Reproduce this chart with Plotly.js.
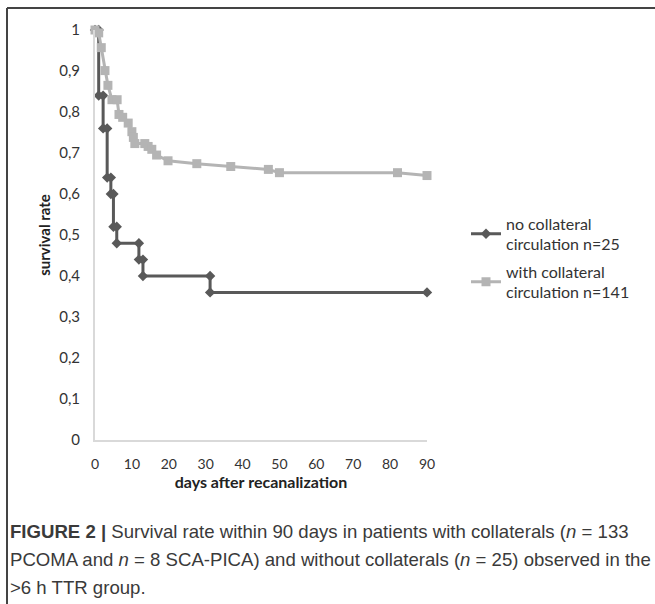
<!DOCTYPE html>
<html>
<head>
<meta charset="utf-8">
<script src="https://cdn.plot.ly/plotly-3.0.1.min.js"></script>
<style>html,body{margin:0;padding:0;background:#fff;}</style>
</head>
<body>
<div id="chart" style="width:655px;height:604px;"></div>
<script>
// ---- data ----
var noCollDays = [0, 1, 1, 2.2, 2.2, 3.3, 3.3, 4.3, 4.3, 5, 5, 5.9, 5.9, 11.9, 11.9, 13, 13, 31.2, 31.2, 90];
var noCollRate = [1, 1, 0.84, 0.84, 0.76, 0.76, 0.64, 0.64, 0.60, 0.60, 0.52, 0.52, 0.48, 0.48, 0.44, 0.44, 0.40, 0.40, 0.36, 0.36];
var withCollDays = [0, 1, 1.7, 2.7, 3.5, 4.6, 6, 6.5, 7.5, 9, 10, 10.4, 10.8, 13.5, 14.4, 15.4, 16.7, 19.8, 27.6, 36.8, 47, 50, 82, 90];
var withCollRate = [1, 0.993, 0.957, 0.901, 0.865, 0.83, 0.83, 0.794, 0.787, 0.773, 0.752, 0.738, 0.723, 0.723, 0.716, 0.709, 0.695, 0.681, 0.674, 0.667, 0.660, 0.652, 0.652, 0.645];
var yTickVals = [0, 0.1, 0.2, 0.3, 0.4, 0.5, 0.6, 0.7, 0.8, 0.9, 1];
var yTickText = ['0', '0,1', '0,2', '0,3', '0,4', '0,5', '0,6', '0,7', '0,8', '0,9', '1'];
var xTickVals = [0, 10, 20, 30, 40, 50, 60, 70, 80, 90];
var seriesNames = ['no collateral<br>circulation n=25', 'with collateral<br>circulation n=141'];
var xTitle = 'days after recanalization';
var yTitle = 'survival rate';
var captionLines = [
  '<b>FIGURE 2 |</b> Survival rate within 90 days in patients with collaterals (<i>n</i> = 133',
  'PCOMA and <i>n</i> = 8 SCA-PICA) and without collaterals (<i>n</i> = 25) observed in the',
  '>6 h TTR group.'
];

// ---- layout helpers (pixel -> paper) ----
var L = 95, R = 427, T = 30, B = 440;
function px(x) { return (x - L) / (R - L); }
function py(y) { return (B - y) / (B - T); }

var chartFont = 'Lato, "Open Sans", sans-serif';
var capFont = '"Liberation Sans Narrow", "Liberation Sans", Arial, sans-serif';

var traces = [
  {
    x: noCollDays, y: noCollRate, name: seriesNames[0], type: 'scatter', mode: 'lines+markers',
    line: {color: '#595959', width: 3}, marker: {symbol: 'diamond', size: 8, color: '#595959'},
    cliponaxis: false, legend: 'legend'
  },
  {
    x: withCollDays, y: withCollRate, name: seriesNames[1], type: 'scatter', mode: 'lines+markers',
    line: {color: '#b4b4b4', width: 3}, marker: {symbol: 'square', size: 9, color: '#b4b4b4'},
    cliponaxis: false, legend: 'legend2'
  }
];

var annotations = [];
captionLines.forEach(function (t, i) {
  annotations.push({
    text: t, xref: 'paper', yref: 'paper', x: px(8), y: py(531 + i * 28),
    xanchor: 'left', yanchor: 'middle', showarrow: false, align: 'left',
    font: {family: capFont, size: 18.6, color: '#3a3a3a'}
  });
});

var legendFont = {family: chartFont, size: 16, color: '#333'};
var layout = {
  width: 655, height: 604,
  margin: {l: L, r: 655 - R, t: T, b: 604 - B},
  paper_bgcolor: '#fff', plot_bgcolor: '#fff',
  separators: ', ',
  font: {family: chartFont, size: 14, color: '#333'},
  xaxis: {
    range: [0, 90], tickvals: xTickVals, showgrid: false, zeroline: false,
    showline: true, linecolor: '#d9d9d9', linewidth: 2,
    ticks: 'outside', ticklen: 10, tickcolor: 'rgba(0,0,0,0)',
    tickfont: {family: chartFont, size: 14, color: '#333'},
    title: {text: '<b>' + xTitle + '</b>', standoff: 3, font: {family: chartFont, size: 16, color: '#222'}}
  },
  yaxis: {
    range: [0, 1], tickvals: yTickVals, ticktext: yTickText, showgrid: false, zeroline: false,
    showline: true, linecolor: '#d9d9d9', linewidth: 2,
    ticks: 'outside', ticklen: 10, tickcolor: 'rgba(0,0,0,0)',
    tickfont: {family: chartFont, size: 15, color: '#333'},
    title: {text: '<b>' + yTitle + '</b>', standoff: 5, font: {family: chartFont, size: 15, color: '#222'}}
  },
  legend: {
    x: px(466), y: py(234), xanchor: 'left', yanchor: 'middle',
    font: legendFont, bgcolor: 'rgba(0,0,0,0)'
  },
  legend2: {
    x: px(466), y: py(282), xanchor: 'left', yanchor: 'middle',
    font: legendFont, bgcolor: 'rgba(0,0,0,0)'
  },
  shapes: [
    {type: 'line', xref: 'paper', yref: 'paper', x0: px(7), x1: px(660), y0: py(8), y1: py(8), line: {color: '#444', width: 2}},
    {type: 'line', xref: 'paper', yref: 'paper', x0: px(7), x1: px(7), y0: py(8), y1: py(610), line: {color: '#444', width: 2}}
  ],
  annotations: annotations,
  showlegend: true
};

Plotly.newPlot('chart', traces, layout, {displayModeBar: false, staticPlot: true});
</script>
</body>
</html>
